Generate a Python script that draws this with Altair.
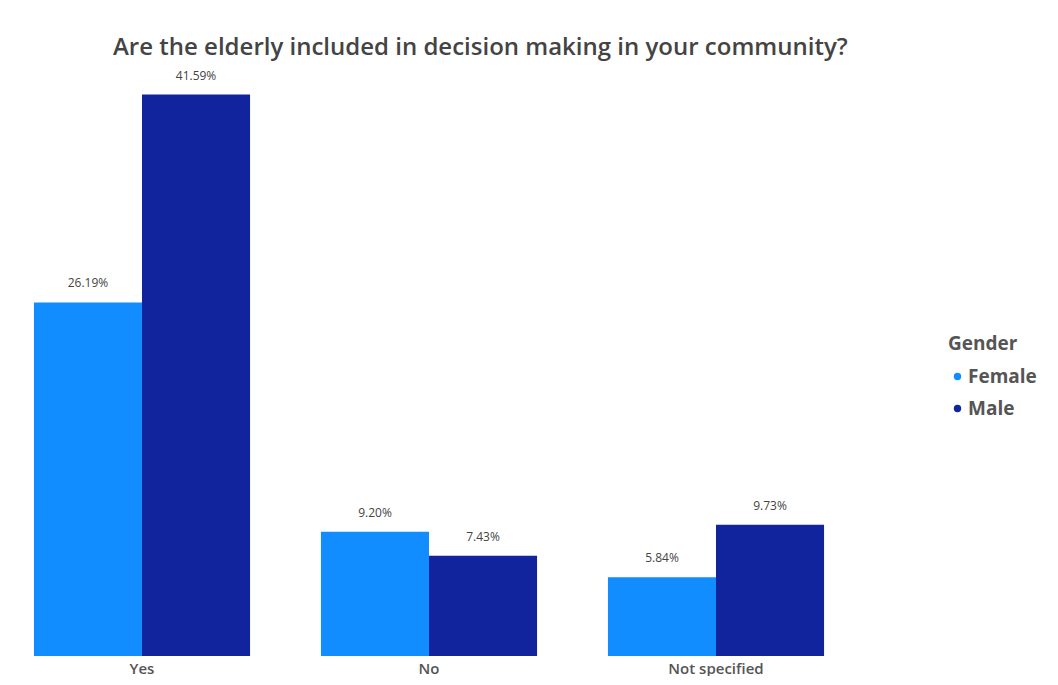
import altair as alt
import pandas as pd

categories = ["Yes", "No", "Not specified"]
genders = ["Female", "Male"]
female_values = [26.19, 9.20, 5.84]
male_values = [41.59, 7.43, 9.73]
colors = ["#118DFF", "#12239E"]

rows = []
for c, f, m in zip(categories, female_values, male_values):
    rows.append({"Answer": c, "Gender": "Female", "Value": f})
    rows.append({"Answer": c, "Gender": "Male", "Value": m})
df = pd.DataFrame(rows)
df["Label"] = df["Value"].map(lambda v: f"{v:.2f}%")

FONT = "Open Sans"

x = alt.X("Answer:N", sort=categories, title=None,
          scale=alt.Scale(paddingInner=0.247, paddingOuter=0.073),
          axis=alt.Axis(labelAngle=0, domain=False, ticks=False, labelFontSize=15,
                        labelFontWeight=600,
                        labelColor="#555555", labelFont=FONT, labelPadding=5))
y = alt.Y("Value:Q", scale=alt.Scale(domain=[0, 42], nice=False), axis=None)

base = alt.Chart(df).encode(
    x=x,
    xOffset=alt.XOffset("Gender:N", sort=genders, scale=alt.Scale(paddingInner=0, paddingOuter=0)),
    y=y,
)

bars = base.mark_bar().encode(
    color=alt.Color("Gender:N", sort=genders,
                    scale=alt.Scale(domain=genders, range=colors),
                    legend=alt.Legend(title="Gender", orient="none", legendX=935, legendY=246,
                                      symbolType="circle", symbolSize=55,
                                      titleFontSize=19, titleColor="#555555", titleFont=FONT,
                                      titleFontWeight="bold",
                                      labelFontSize=19, labelColor="#555555", labelFont=FONT,
                                      labelFontWeight="bold", rowPadding=12, symbolOffset=0,
                                      labelOffset=1, titlePadding=13))
)

labels = base.mark_text(dy=-19, fontSize=12, color="#444444", font=FONT).encode(
    text="Label:N"
)

chart = (bars + labels).properties(
    width=832, height=567,
    padding={"top": 27, "left": 5, "right": 0, "bottom": 0},
    title=alt.TitleParams("Are the elderly included in decision making in your community?",
                          fontSize=24, font=FONT, fontWeight=600, color="#444444",
                          anchor="start", dx=100, offset=10),
).configure_view(stroke=None)

chart.save("out.html", embed_options={"renderer": "svg", "actions": False})
